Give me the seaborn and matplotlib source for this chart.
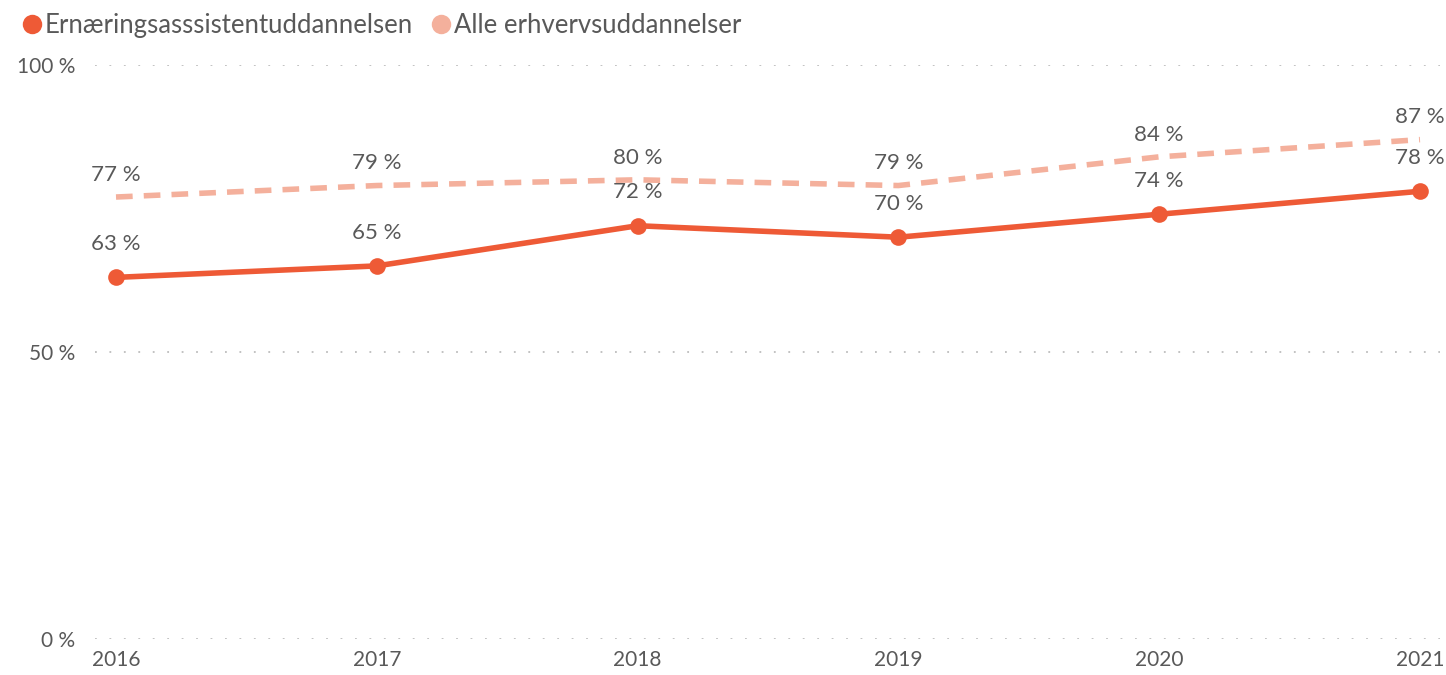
import matplotlib
matplotlib.use("Agg")
import pandas as pd
import matplotlib.pyplot as plt
from matplotlib.lines import Line2D
import seaborn as sns

years = [2016, 2017, 2018, 2019, 2020, 2021]
ernaering = [63, 65, 72, 70, 74, 78]
alle = [77, 79, 80, 79, 84, 87]
series_names = ["Ernæringsasssistentuddannelsen", "Alle erhvervsuddannelser"]
y_ticks = [0, 50, 100]

RED = "#EE5A36"
PINK = "#F4B09C"
TXT = "#595959"

sns.set_theme(style="white")
plt.rcParams["font.family"] = ["Lato", "DejaVu Sans"]

df = pd.DataFrame({
    "year": years * 2,
    "value": ernaering + alle,
    "serie": [series_names[0]] * len(years) + [series_names[1]] * len(years),
})

fig = plt.figure(figsize=(14.46, 6.75), dpi=100)
ax = fig.add_axes([95 / 1446, 1 - 639 / 675, 1345 / 1446, 574 / 675])

for y in y_ticks:
    ax.axhline(y, color="#BDBDBD", linewidth=1.3, linestyle=(0, (1, 7)), zorder=0)

sns.lineplot(data=df[df["serie"] == series_names[1]], x="year", y="value",
             color=PINK, linewidth=4, dashes=False, ax=ax, zorder=2)
ax.lines[-1].set_linestyle((0, (3, 2)))
sns.lineplot(data=df[df["serie"] == series_names[0]], x="year", y="value",
             color=RED, linewidth=4, marker="o", markersize=12,
             markeredgewidth=0, ax=ax, zorder=3)

for x, v in zip(years, alle):
    ax.annotate(f"{v} %", (x, v), xytext=(0, 16), textcoords="offset points",
                ha="center", va="center", fontsize=16, color=TXT)
for x, v in zip(years, ernaering):
    ax.annotate(f"{v} %", (x, v), xytext=(0, 24), textcoords="offset points",
                ha="center", va="center", fontsize=16, color=TXT)

ax.set_xlim(2016 - 21 / 260.8, 2021 + 20 / 260.8)
ax.set_ylim(0, 100)
ax.set_xticks(years)
ax.set_xticklabels([str(y) for y in years])
ax.set_yticks(y_ticks)
ax.set_yticklabels([f"{y} %" for y in y_ticks])
ax.tick_params(axis="both", length=0, labelsize=15, colors=TXT)
ax.tick_params(axis="y", pad=14)
ax.tick_params(axis="x", pad=8)
ax.set_xlabel("")
ax.set_ylabel("")
for s in ax.spines.values():
    s.set_visible(False)
if ax.get_legend() is not None:
    ax.get_legend().remove()

handles = [
    Line2D([], [], marker="o", linestyle="none", markersize=14, color=RED, markeredgewidth=0),
    Line2D([], [], marker="o", linestyle="none", markersize=14, color=PINK, markeredgewidth=0),
]
fig.legend(handles, series_names, loc="upper left", bbox_to_anchor=(-0.003, 1.015),
           ncol=2, frameon=False, fontsize=18.5, labelcolor=TXT,
           handletextpad=0.0, columnspacing=0.6, handlelength=1.0)

fig.savefig("out.png", dpi=100)
